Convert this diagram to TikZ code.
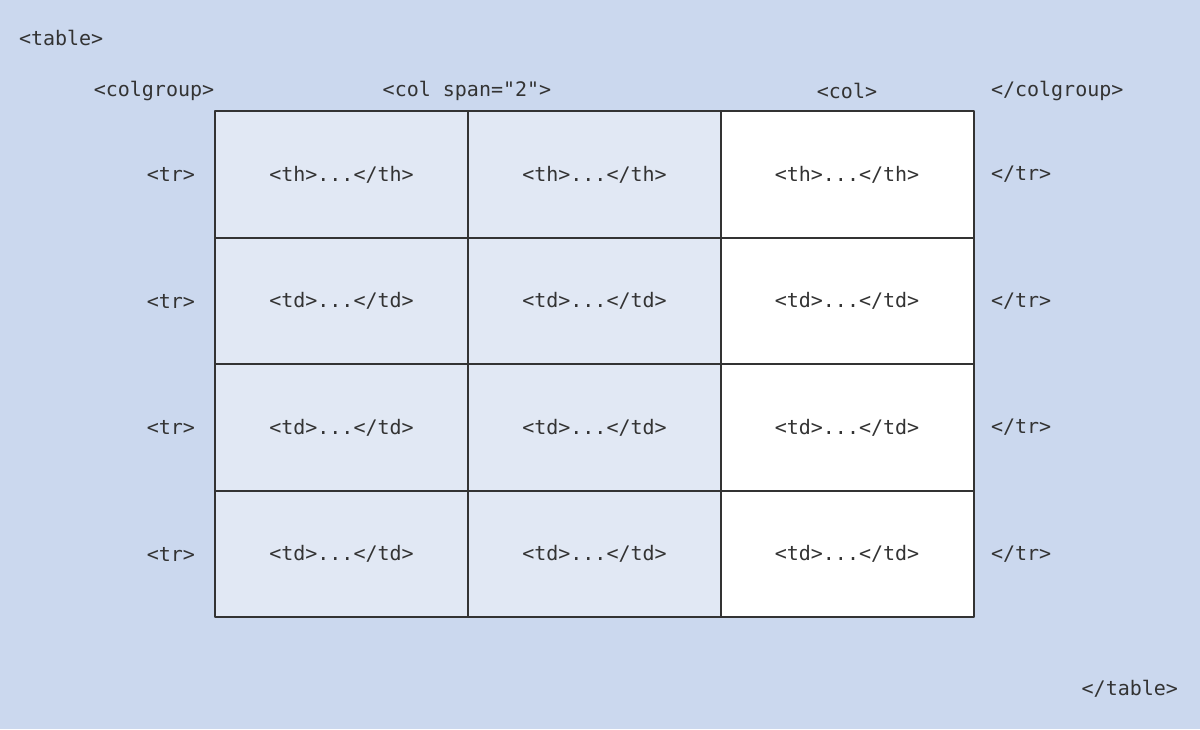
\documentclass[tikz,border=0pt]{standalone}
\usepackage{fontspec}
\setmonofont{DejaVu Sans Mono}
\usepackage{tikz}
\usetikzlibrary{calc}
\definecolor{fondo}{HTML}{CBD8EE}
\definecolor{celda}{HTML}{E1E8F4}
\definecolor{linea}{HTML}{333333}
\tikzstyle{every path}=[line width=1pt, line cap=round, line join=round]
\tikzstyle{etiqueta}=[font=\ttfamily\fontsize{10}{12}\selectfont, text=linea, inner sep=0pt]
\tikzstyle{casilla}=[etiqueta, draw=linea, minimum width=126.5pt, minimum height=63.25pt, anchor=center]

\begin{document}
\begin{tikzpicture}[x=0.5pt, y=-0.5pt]
          %fondo
          \fill[fondo] (0,0) rectangle (1200,729);
          \useasboundingbox (0,0) rectangle (1200,729);
          %etiquetas de tabla y columnas
          \node[etiqueta, anchor=west] (table) at (18,38) {<table>};
          \node[etiqueta] (colgroup) at (154,91) {<colgroup>};
          \node[etiqueta] (colspan) at (467,91) {<col span="2">};
          \node[etiqueta] (col) at (847,91) {<col>};
          \node[etiqueta, anchor=west] (endcolgroup) at (990,91) {</colgroup>};
          \node[etiqueta, anchor=east] (endtable) at (1179,689) {</table>};
          %filas
          \foreach \f/\y in {1/174.5, 2/301, 3/427.5, 4/554} {
            \node[etiqueta, anchor=east] (tr\f) at (196,\y) {<tr>};
            \node[etiqueta, anchor=west] (endtr\f) at (990,\y) {</tr>};
          }
          %celdas
          \foreach \c/\x/\col in {1/341.5/celda, 2/594.5/celda, 3/847/white} {
            \node[casilla, fill=\col] (c1\c) at (\x,174.5) {<th>...</th>};
            \foreach \f/\y in {2/301, 3/427.5, 4/554} {
              \node[casilla, fill=\col] (c\f\c) at (\x,\y) {<td>...</td>};
            }
          }
        \end{tikzpicture}
\end{document}
